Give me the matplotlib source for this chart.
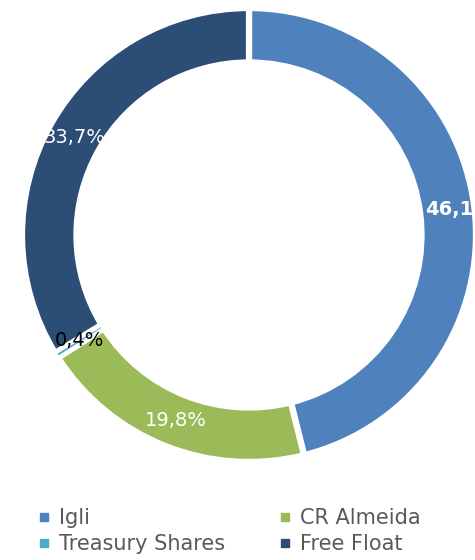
import numpy as np
import matplotlib.pyplot as plt
from matplotlib.lines import Line2D

plt.rcParams['font.family'] = 'DejaVu Sans'

# Data
holders = ['Igli', 'CR Almeida', 'Treasury Shares', 'Free Float']
shares = [46.1, 19.8, 0.4, 33.7]
colors = ['#4F81BD', '#9BBB59', '#4BACC6', '#2C4D75']
label_colors = ['white', 'white', 'black', 'white']
label_weights = ['bold', 'normal', 'normal', 'normal']
label_radius = [0.93, 0.88, 0.88, 0.88]

fig = plt.figure(figsize=(4.75, 5.6), dpi=100)
fig.patch.set_facecolor('white')
ax = fig.add_axes([0, 0, 1, 1])

# donut centre at (249, 235) px, outer radius 227 px
cx, cy, R = 249, 235, 227
wedges, _ = ax.pie(shares, colors=colors, startangle=90, counterclock=False,
                   radius=1, wedgeprops=dict(width=0.24, edgecolor='white', linewidth=4.5))
wedges[2].set_linewidth(2.6)
wedges[2].set_zorder(5)

ax.set_aspect('auto')
ax.set_xlim(-cx / R, (475 - cx) / R)
ax.set_ylim(-(560 - cy) / R, cy / R)
ax.axis('off')

# percentage labels
cum = 0
for val, col, w, r in zip(shares, label_colors, label_weights, label_radius):
    mid = np.deg2rad(90 - 3.6 * (cum + val / 2))
    cum += val
    ax.text(r * np.cos(mid), r * np.sin(mid), f'{val:.1f}%'.replace('.', ','),
            ha='center', va='center', color=col, fontsize=14, fontweight=w, zorder=10)

# legend, row-major order
handles = [Line2D([], [], marker='s', linestyle='none', markersize=6,
                  markerfacecolor=c, markeredgecolor=c) for c in colors]
order = [0, 2, 1, 3]
fig.legend([handles[i] for i in order], [holders[i] for i in order],
           ncol=2, loc='upper left', bbox_to_anchor=(0.062, 0.108),
           frameon=False, fontsize=15, labelcolor='#595959',
           handlelength=0.6, handletextpad=0.4, columnspacing=2.6,
           labelspacing=0.3, borderaxespad=0)

plt.savefig('out.png', dpi=100)
